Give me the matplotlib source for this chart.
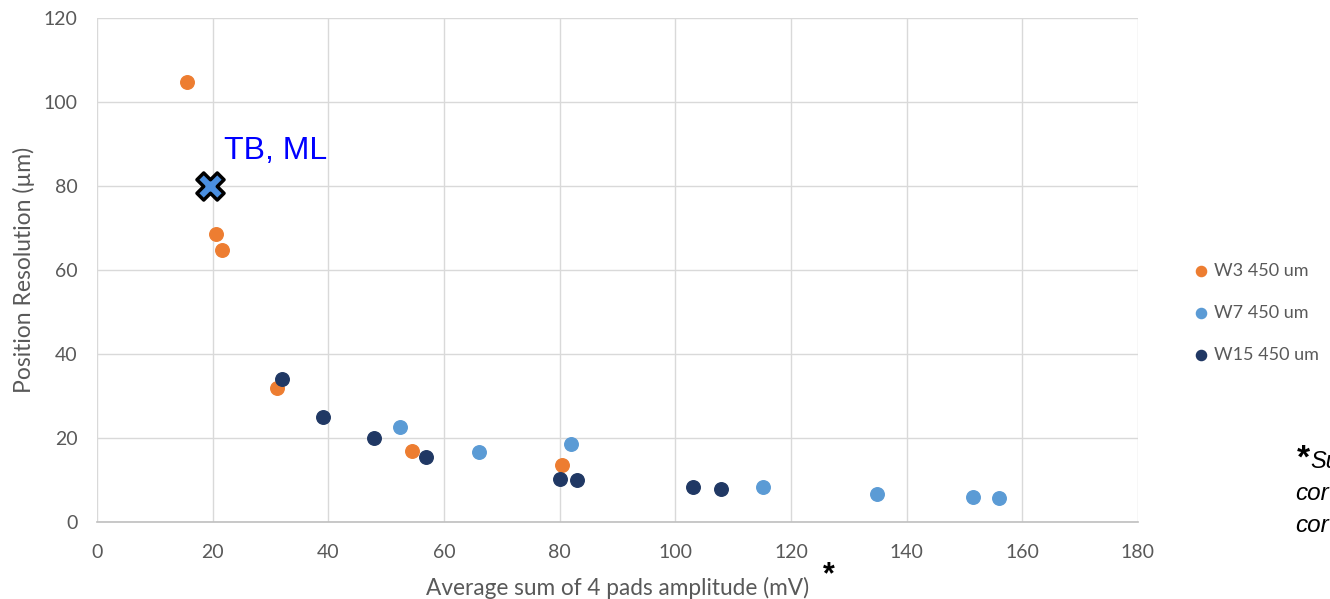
import matplotlib.pyplot as plt

# series
w3_x = [15.6, 20.6, 21.6, 31.2, 54.4, 80.4]
w3_y = [104.8, 68.6, 64.8, 31.8, 16.9, 13.6]

w7_x = [52.4, 66.0, 81.9, 115.1, 134.8, 151.4, 155.9]
w7_y = [22.7, 16.7, 18.6, 8.3, 6.7, 6.0, 5.7]

w15_x = [32.0, 39.0, 47.9, 56.9, 80.1, 83.0, 103.1, 107.9]
w15_y = [34.0, 25.1, 20.0, 15.5, 10.2, 10.0, 8.3, 7.9]

tb_x = [19.5]
tb_y = [80.0]

xticks = list(range(0, 181, 20))
yticks = list(range(0, 121, 20))

plt.rcParams['font.family'] = ['Lato', 'DejaVu Sans']
arial = ['Liberation Sans', 'DejaVu Sans']

fig = plt.figure(figsize=(13.3, 5.99), dpi=100)
ax = fig.add_axes([0.0729, 0.1285, 0.7827, 0.8415])

ax.scatter(w3_x, w3_y, s=95, color='#ED7D31', label='W3 450 um', zorder=3)
ax.scatter(w7_x, w7_y, s=95, color='#5B9BD5', label='W7 450 um', zorder=3)
ax.scatter(w15_x, w15_y, s=95, color='#203864', label='W15 450 um', zorder=3)
ax.scatter(tb_x, tb_y, s=380, marker='X', color='#4A8FE0', edgecolors='black',
           linewidths=2.5, zorder=4)
ax.text(22.0, 86.4, 'TB, ML', color='#0000FF', fontsize=23, family=arial)

ax.set_xlim(0, 180)
ax.set_ylim(0, 120)
ax.set_xticks(xticks)
ax.set_yticks(yticks)
ax.grid(True, color='#D9D9D9', linewidth=1.0)
ax.set_axisbelow(True)
for side in ['top', 'right', 'left']:
    ax.spines[side].set_visible(False)
ax.spines['bottom'].set_color('#BFBFBF')
ax.spines['bottom'].set_linewidth(1.2)
ax.tick_params(length=0, labelsize=14, labelcolor='#595959')
ax.tick_params(axis='x', pad=16)
ax.tick_params(axis='y', pad=14)

ax.set_xlabel('Average sum of 4 pads amplitude (mV)', fontsize=16.3, color='#595959', labelpad=11)
ax.set_ylabel('Position Resolution (µm)', fontsize=16.5, color='#595959', labelpad=6)
fig.text(0.623, 0.026, '*', fontsize=22, fontweight='bold', color='black',
         ha='center', va='baseline', family=arial)

ax.legend(loc='upper left', bbox_to_anchor=(1.0365, 0.547), frameon=False, fontsize=13,
          labelcolor='#595959', handlelength=1.0, handletextpad=0.2,
          labelspacing=1.45, markerscale=0.75)

# footnote on the right, cut off by the figure edge as in the original
fig.text(0.975, 0.219, '*', fontsize=24, fontweight='bold', color='black', family=arial)
fig.text(0.985, 0.219, 'Su', fontsize=17, style='italic', color='black', family=arial)
fig.text(0.9737, 0.166, 'cor', fontsize=17.5, style='italic', color='black', family=arial)
fig.text(0.9737, 0.112, 'cor', fontsize=17.5, style='italic', color='black', family=arial)

fig.savefig('out.png', dpi=100)
